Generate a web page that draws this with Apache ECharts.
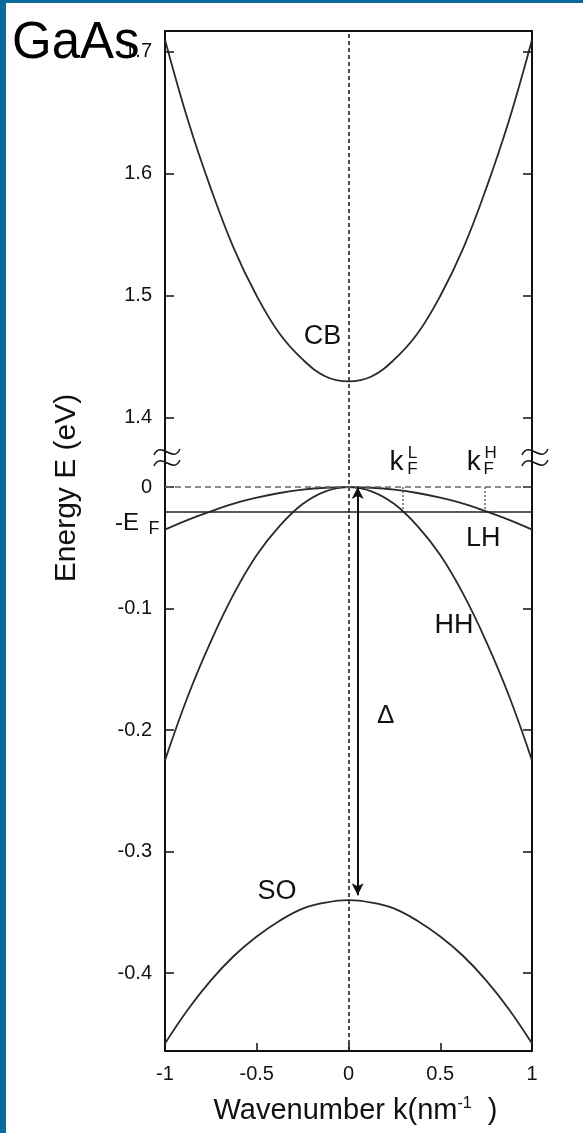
<!DOCTYPE html>
<html>
<head>
<meta charset="utf-8">
<style>
  html, body { margin: 0; padding: 0; background: #fff; }
  #grafico { width: 583px; height: 1133px; }
  .borde-izq { position: absolute; left: 0; top: 0; width: 6px; height: 1133px; background: #0a6a99; }
  .borde-sup { position: absolute; left: 0; top: 0; width: 583px; height: 3px; background: #0a6a99; }
</style>
<script src="https://cdn.jsdelivr.net/npm/echarts/dist/echarts.min.js"></script>
</head>
<body>
<div id="grafico"></div>
<div class="borde-izq"></div>
<div class="borde-sup"></div>
<script>
// Datos (k en nm^-1, E en eV)
const numeroOnda = [-1, -0.875, -0.75, -0.625, -0.5, -0.375, -0.25, -0.125, 0, 0.125, 0.25, 0.375, 0.5, 0.625, 0.75, 0.875, 1];
const energiaCB = [1.710, 1.644, 1.588, 1.539, 1.500, 1.469, 1.448, 1.434, 1.430, 1.434, 1.448, 1.469, 1.500, 1.539, 1.588, 1.644, 1.710];
const energiaHH = [-0.225, -0.172, -0.127, -0.088, -0.056, -0.032, -0.014, -0.0035, 0, -0.0035, -0.014, -0.032, -0.056, -0.088, -0.127, -0.172, -0.225];
const energiaLH = [-0.035, -0.027, -0.020, -0.0137, -0.0088, -0.0049, -0.0022, -0.0006, 0, -0.0006, -0.0022, -0.0049, -0.0088, -0.0137, -0.020, -0.027, -0.035];
const energiaSO = [-0.458, -0.430, -0.406, -0.386, -0.370, -0.357, -0.347, -0.342, -0.340, -0.342, -0.347, -0.357, -0.370, -0.386, -0.406, -0.430, -0.458];

const ticksSuperior = [1.4, 1.5, 1.6, 1.7];
const ticksInferior = [-0.4, -0.3, -0.2, -0.1, 0];
const nivelFermi = -0.019;
const kFermiL = 0.294;
const kFermiH = 0.742;
const kDelta = 0.05;
const energiaDelta = -0.336;

const fuente = '"Liberation Sans", Arial, sans-serif';
const negro = '#111';
const colorCurva = '#2a2a2a';

function puntos(ks, es) {
    return ks.map((k, i) => [k, es[i]]);
}

// Etiqueta de texto sobre un punto del gráfico
function etiqueta(coord, texto, tam, offset) {
    return {
        coord: coord,
        symbolSize: 0,
        label: {
            show: true, position: 'inside', formatter: texto,
            fontSize: tam, fontFamily: fuente, color: negro,
            offset: offset || [0, 0]
        }
    };
}

function ejeY(grid, min, max, ticks, lado) {
    return {
        type: 'value', gridIndex: grid, min: min, max: max, position: lado,
        axisLine: { show: true, onZero: false, lineStyle: { color: '#111', width: 2 } },
        axisTick: { show: true, inside: true, length: 9, customValues: ticks, lineStyle: { color: '#111', width: 1.5 } },
        axisLabel: {
            show: lado === 'left', customValues: ticks, margin: 13,
            fontSize: 20, fontFamily: fuente, color: negro
        },
        splitLine: { show: false }
    };
}

const grafico = echarts.init(document.getElementById('grafico'));

grafico.setOption({
    animation: false,
    backgroundColor: '#fff',
    grid: [
        { left: 165, right: 51, top: 31, height: 427 },
        { left: 165, right: 51, top: 458, height: 593 }
    ],
    xAxis: [
        { type: 'value', gridIndex: 0, min: -1, max: 1, show: false },
        {
            type: 'value', gridIndex: 0, min: -1, max: 1, position: 'top',
            axisLine: { show: true, onZero: false, lineStyle: { color: '#111', width: 2 } },
            axisTick: { show: false }, axisLabel: { show: false }, splitLine: { show: false }
        },
        {
            type: 'value', gridIndex: 1, min: -1, max: 1, interval: 0.5, position: 'bottom',
            axisLine: { show: true, onZero: false, lineStyle: { color: '#111', width: 2 } },
            axisTick: { show: true, inside: true, length: 8, lineStyle: { color: '#111', width: 1.5 } },
            axisLabel: { margin: 13, fontSize: 20, fontFamily: fuente, color: negro },
            splitLine: { show: false },
            name: 'Wavenumber k(nm{s|-1}  )',
            nameLocation: 'middle',
            nameGap: 45,
            nameTextStyle: {
                fontSize: 29, fontFamily: fuente, color: negro, padding: [0, 0, 0, 14],
                rich: { s: { fontSize: 16, fontFamily: fuente, color: negro, verticalAlign: 'top', lineHeight: 14 } }
            }
        },
        { type: 'value', gridIndex: 1, min: -1, max: 1, show: false }
    ],
    yAxis: [
        ejeY(0, 1.3672, 1.7172, ticksSuperior, 'left'),
        ejeY(0, 1.3672, 1.7172, ticksSuperior, 'right'),
        ejeY(1, -0.4642, 0.0239, ticksInferior, 'left'),
        ejeY(1, -0.4642, 0.0239, ticksInferior, 'right')
    ],
    graphic: [
        // Título
        { type: 'text', x: 12, y: 44, z: 100, style: { text: 'GaAs', font: '51px ' + fuente, fill: '#000', verticalAlign: 'middle' } },
        // Nombre del eje Y
        { type: 'text', x: 67, y: 488, rotation: Math.PI / 2, style: { text: 'Energy E (eV)', font: '30px ' + fuente, fill: negro, align: 'center', verticalAlign: 'middle' } },
        // Marcas de corte del eje
        { type: 'bezierCurve', z: 100, shape: { x1: 154, y1: 455, cpx1: 161, cpy1: 440, cpx2: 173, cpy2: 464, x2: 180, y2: 449 }, style: { stroke: '#111', lineWidth: 1.5, fill: 'none' } },
        { type: 'bezierCurve', z: 100, shape: { x1: 154, y1: 466, cpx1: 161, cpy1: 451, cpx2: 173, cpy2: 475, x2: 180, y2: 460 }, style: { stroke: '#111', lineWidth: 1.5, fill: 'none' } },
        { type: 'bezierCurve', z: 100, shape: { x1: 522, y1: 455, cpx1: 529, cpy1: 440, cpx2: 541, cpy2: 464, x2: 548, y2: 449 }, style: { stroke: '#111', lineWidth: 1.5, fill: 'none' } },
        { type: 'bezierCurve', z: 100, shape: { x1: 522, y1: 466, cpx1: 529, cpy1: 451, cpx2: 541, cpy2: 475, x2: 548, y2: 460 }, style: { stroke: '#111', lineWidth: 1.5, fill: 'none' } }
    ],
    series: [
        {
            name: 'CB', type: 'line', xAxisIndex: 0, yAxisIndex: 0,
            data: puntos(numeroOnda, energiaCB),
            showSymbol: false, smooth: 0.4,
            lineStyle: { color: colorCurva, width: 1.8 },
            markLine: {
                silent: true, symbol: 'none', label: { show: false },
                lineStyle: { type: [4, 3], color: '#222', width: 1.6 },
                data: [{ xAxis: 0 }]
            },
            markPoint: { silent: true, data: [etiqueta([-0.142, 1.467], 'CB', 27)] }
        },
        {
            name: 'HH', type: 'line', xAxisIndex: 2, yAxisIndex: 2,
            data: puntos(numeroOnda, energiaHH),
            showSymbol: false, smooth: 0.4,
            lineStyle: { color: colorCurva, width: 1.8 },
            markLine: {
                silent: true, symbol: 'none', label: { show: false },
                data: [
                    { xAxis: 0, lineStyle: { type: [4, 3], color: '#222', width: 1.6 } },
                    { yAxis: 0, lineStyle: { type: [6, 4], color: '#666', width: 1.6 } },
                    { yAxis: nivelFermi, lineStyle: { type: 'solid', color: '#222', width: 1.6 } }
                ]
            },
            markPoint: {
                silent: true,
                data: [
                    etiqueta([0.575, -0.1136], 'HH', 27),
                    etiqueta([-1, nivelFermi], '-E', 24, [-38, 13]),
                    etiqueta([-1, nivelFermi], 'F', 18, [-11, 19])
                ]
            }
        },
        {
            name: 'LH', type: 'line', xAxisIndex: 2, yAxisIndex: 2,
            data: puntos(numeroOnda, energiaLH),
            showSymbol: false, smooth: 0.4,
            lineStyle: { color: colorCurva, width: 1.8 },
            markLine: {
                silent: true, symbol: 'none', label: { show: false },
                lineStyle: { type: [2, 2], color: '#666', width: 1.5 },
                data: [
                    [{ coord: [kFermiL, 0] }, { coord: [kFermiL, nivelFermi] }],
                    [{ coord: [kFermiH, 0] }, { coord: [kFermiH, nivelFermi] }]
                ]
            },
            markPoint: {
                silent: true,
                data: [
                    etiqueta([0.734, -0.042], 'LH', 27),
                    etiqueta([kFermiL, 0], 'k', 28, [-6, -25]),
                    etiqueta([kFermiL, 0], 'L', 17, [10, -34]),
                    etiqueta([kFermiL, 0], 'F', 17, [10, -18]),
                    etiqueta([kFermiH, 0], 'k', 28, [-11, -25]),
                    etiqueta([kFermiH, 0], 'H', 17, [6, -34]),
                    etiqueta([kFermiH, 0], 'F', 17, [4, -18])
                ]
            }
        },
        {
            name: 'SO', type: 'line', xAxisIndex: 2, yAxisIndex: 2,
            data: puntos(numeroOnda, energiaSO),
            showSymbol: false, smooth: 0.4,
            lineStyle: { color: colorCurva, width: 1.8 },
            markLine: {
                silent: true, symbol: ['arrow', 'arrow'], symbolSize: [9, 12],
                label: { show: false },
                lineStyle: { type: 'solid', color: '#111', width: 2 },
                data: [[{ coord: [kDelta, 0] }, { coord: [kDelta, energiaDelta] }]]
            },
            markPoint: {
                silent: true,
                data: [
                    etiqueta([-0.389, -0.3333], 'SO', 27),
                    etiqueta([0.203, -0.1885], 'Δ', 26)
                ]
            }
        }
    ]
});
</script>
</body>
</html>
